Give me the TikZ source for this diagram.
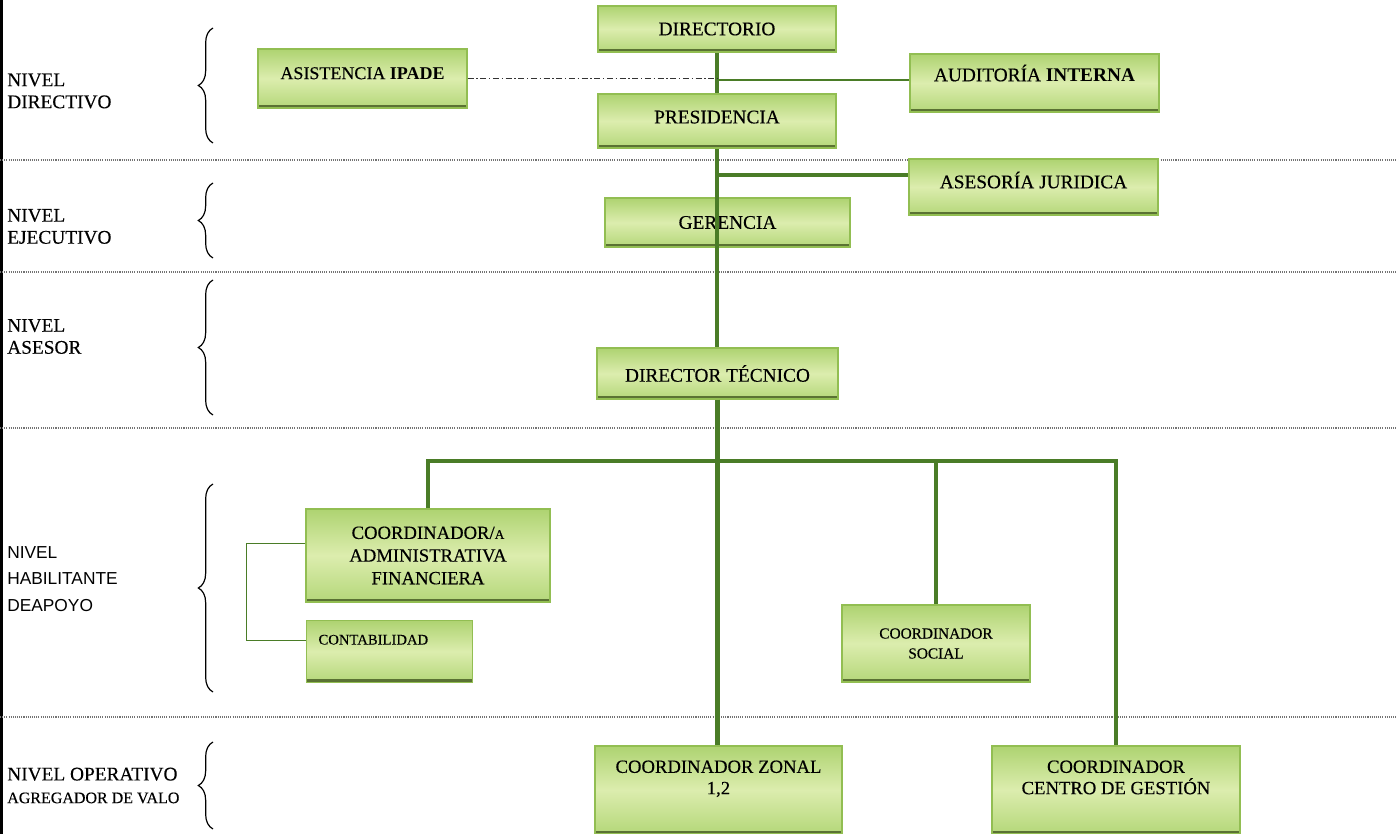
\documentclass[tikz,border=0pt]{standalone}
\usepackage{fontspec}
\setmainfont{Liberation Serif}[UprightFeatures={FakeBold=0.3}]
\newfontfamily\habfont{Liberation Sans}
\usetikzlibrary{calc}
\usetikzlibrary{decorations.pathreplacing}

\definecolor{linkgreen}{HTML}{4A7C27}
\definecolor{boxedge}{HTML}{92BE52}
\definecolor{boxtop}{HTML}{AED371}
\definecolor{boxmid}{HTML}{DCEDAE}
\definecolor{boxbot}{HTML}{B4D779}
\definecolor{boxshade}{HTML}{5A7233}

\begin{document}
\begin{tikzpicture}[x=0.75pt,y=0.75pt,yscale=-1,xscale=1,
  orgbox/.style={draw=boxedge,line width=0.8pt,top color=boxtop,bottom color=boxbot,middle color=boxmid,
    align=center,inner sep=0.75pt,font=\fontsize{14.5}{17}\selectfont,
    path picture={\draw[boxshade,line width=2.4pt] ([yshift=1.1pt]path picture bounding box.south west) -- ([yshift=1.1pt]path picture bounding box.south east);}},
  trunk/.style={linkgreen,line width=3.2pt},
  thinlink/.style={linkgreen,line width=1.4pt},
  ipadelink/.style={black!80,line width=1pt,dash pattern=on 4.5pt off 2pt on 1pt off 2pt},
  levelsep/.style={black!55,line width=0.8pt,dash pattern=on 0.8pt off 0.8pt},
  levelbrace/.style={black,line width=0.9pt,decorate,decoration={brace,amplitude=11pt}},
  leveltext/.style={anchor=west,align=left,inner sep=0.75pt,font=\fontsize{14.5}{16.5}\selectfont}]
%uncomment if require: \path (0,834); %set diagram left start at 0, and has height of 834
\useasboundingbox (0,0) rectangle (1397,834);

% Page frame and level separators
\draw[black,line width=1.5pt] (1.5,0) -- (1.5,834);
\foreach \y in {160,272,428,717}
  \draw[levelsep] (0,\y) -- (1397,\y);

% Text Node
\draw (6,91) node (nivdir) [leveltext] {NIVEL\\DIRECTIVO};
% Text Node
\draw (6,226.5) node (niveje) [leveltext] {NIVEL\\EJECUTIVO};
% Text Node
\draw (6,336.5) node (nivase) [leveltext] {NIVEL\\ASESOR};
% Text Node
\draw (6,579) node (nivhab) [leveltext,font=\habfont\fontsize{13}{20}\selectfont] {NIVEL\\HABILITANTE\\DEAPOYO};
% Text Node
\draw (6,785.5) node (nivope) [leveltext,font=\fontsize{14.5}{17}\selectfont] {NIVEL OPERATIVO\\{\fontsize{12}{14}\selectfont AGREGADOR DE VALO}};

% Braces
\draw[levelbrace] (213,143) -- (213,28);
\draw[levelbrace] (213,258) -- (213,183);
\draw[levelbrace] (213,415) -- (213,280);
\draw[levelbrace] (213,692) -- (213,484);
\draw[levelbrace] (213,829) -- (213,742);

% Text Node
\draw (717,29) node (directorio) [orgbox,minimum width=178.5pt,minimum height=34.5pt] {DIRECTORIO};
% Text Node
\draw (362.5,78.5) node (asistencia) [orgbox,minimum width=156.75pt,minimum height=44.25pt,text depth=8pt,font=\fontsize{13.5}{16}\selectfont] {ASISTENCIA \textbf{IPADE}};
% Text Node
\draw (1034.5,83) node (auditoria) [orgbox,minimum width=186.75pt,minimum height=43.5pt,text depth=15pt] {AUDITORÍA \textbf{INTERNA}};
% Text Node
\draw (717,121) node (presidencia) [orgbox,minimum width=178.5pt,minimum height=40.5pt,text depth=6pt] {PRESIDENCIA};
% Text Node
\draw (1033.5,187) node (asesoria) [orgbox,minimum width=186.75pt,minimum height=42pt,text depth=10.5pt] {ASESORÍA JURIDICA};
% Text Node
\draw (727.5,222.5) node (gerencia) [orgbox,minimum width=183.75pt,minimum height=36.75pt] {GERENCIA};
% Text Node
\draw (717.5,373.5) node (dirtecnico) [orgbox,minimum width=180.75pt,minimum height=38.25pt] {DIRECTOR TÉCNICO};
% Text Node
\draw (428,555.5) node (coordadm) [orgbox,minimum width=183pt,minimum height=69.75pt,font=\fontsize{14}{17}\selectfont] {COORDINADOR/{\fontsize{10}{12}\selectfont A}\\ADMINISTRATIVA\\FINANCIERA};
% Text Node
\draw (306,620) node (contabilidad) [orgbox,anchor=north west,minimum width=124.5pt,minimum height=46.5pt,text width=106.5pt,align=left,inner xsep=9pt,inner ysep=0pt,text height=18pt,text depth=28.5pt,font=\fontsize{11}{13}\selectfont] {CONTABILIDAD};
% Text Node
\draw (936,643.5) node (coordsocial) [orgbox,minimum width=141pt,minimum height=57.75pt,font=\fontsize{11.5}{15}\selectfont] {COORDINADOR\\SOCIAL};
% Text Node
\draw (718.5,790) node (coordzonal) [orgbox,minimum width=185.25pt,minimum height=66pt,text depth=19pt,font=\fontsize{14}{16}\selectfont] {COORDINADOR ZONAL\\1,2};
% Text Node
\draw (1116,790) node (coordcentro) [orgbox,minimum width=186pt,minimum height=66pt,text depth=19pt,font=\fontsize{14}{16}\selectfont] {COORDINADOR\\CENTRO DE GESTIÓN};

\coordinate (jurknot) at (717,175);
\coordinate (bus) at (717,461);

% Connection
\draw[trunk] (directorio.south) -- (presidencia.north);
% Connection
\draw[ipadelink] (asistencia.east) -- (asistencia.east -| presidencia.north);
% Connection
\draw[thinlink] ($(auditoria.west)+(0,-3)$) -- ($(auditoria.west -| presidencia.north)+(0,-3)$);
% Connection
\draw[trunk] (presidencia.south) -- (presidencia.south |- dirtecnico.north);
% Connection
\draw[trunk] (jurknot) -- (jurknot -| asesoria.west);
% Connection
\draw[trunk] (dirtecnico.south) -- (dirtecnico.south |- coordzonal.north);
% Connection
\draw[trunk] (coordadm.north) -- (coordadm.north |- bus) -- (coordcentro.north |- bus) -- (coordcentro.north);
% Connection
\draw[trunk] (coordsocial.north |- bus) -- (coordsocial.north);
% Connection
\draw[thinlink] ($(coordadm.west)+(0,-12)$) -- ++(-59,0) |- ($(contabilidad.west)+(0,-11)$);

\end{tikzpicture}
\end{document}
